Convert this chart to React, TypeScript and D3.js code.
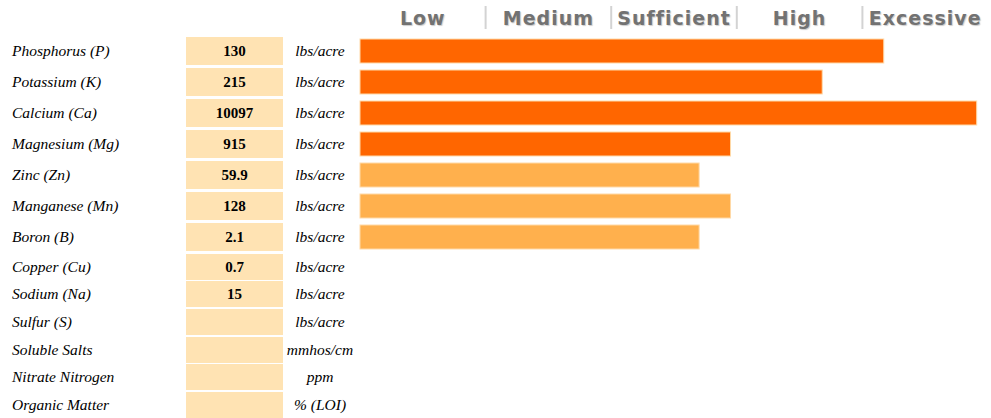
import React from 'react';
import * as d3 from 'd3';

// nutrient rows, top to bottom
const nutrients = [
  'Phosphorus (P)', 'Potassium (K)', 'Calcium (Ca)', 'Magnesium (Mg)',
  'Zinc (Zn)', 'Manganese (Mn)', 'Boron (B)', 'Copper (Cu)', 'Sodium (Na)',
  'Sulfur (S)', 'Soluble Salts', 'Nitrate Nitrogen', 'Organic Matter',
];
const results = ['130', '215', '10097', '915', '59.9', '128', '2.1', '0.7', '15', '', '', '', ''];
const units = [
  'lbs/acre', 'lbs/acre', 'lbs/acre', 'lbs/acre', 'lbs/acre', 'lbs/acre', 'lbs/acre',
  'lbs/acre', 'lbs/acre', 'lbs/acre', 'mmhos/cm', 'ppm', '% (LOI)',
];
// rating on a 0-5 scale (one unit per level), null = no bar
const ratings = [4.17, 3.68, 4.91, 2.95, 2.7, 2.95, 2.7, null, null, null, null, null, null];
const groups = ['macro', 'macro', 'macro', 'macro', 'micro', 'micro', 'micro', 'micro', 'micro', 'micro', 'other', 'other', 'other'];
const levels = ['Low', 'Medium', 'Sufficient', 'High', 'Excessive'];

const W = 991;
const H = 418;

const App = () => {
  const x = d3.scaleLinear().domain([0, levels.length]).range([360, 988]);
  const band = d3.scaleBand().domain(levels).range([360, 988]);
  const color = d3.scaleOrdinal<string, string>()
    .domain(['macro', 'micro', 'other'])
    .range(['#ff6600', '#ffb04d', '#ffb04d']);

  // first seven rows are taller than the rest
  const tops: number[] = [];
  let y = 37;
  nutrients.forEach((_, i) => {
    tops.push(Math.round(y));
    y += i < 6 ? 31 : i === 6 ? 30.5 : 27.7;
  });
  const rowH = (i: number) => (i < 7 ? 28 : 26);

  return (
    <svg width={W} height={H} style={{ position: 'absolute', left: 0, top: 0 }}>
      <rect width={W} height={H} fill="#fff" />
      {/* level header */}
      <g fontFamily="'DejaVu Sans', Verdana, sans-serif" fontWeight="bold" fontSize={19}>
        {levels.map((l) => (
          <text key={l} x={band(l)! + band.bandwidth() / 2} y={25} textAnchor="middle"
            fill="#727272" letterSpacing={1} style={{ textShadow: '1px 1px 1px #ccc' }}>{l}</text>
        ))}
        {d3.range(1, levels.length).map((t) => (
          <line key={t} x1={x(t)} x2={x(t)} y1={6} y2={29} stroke="#d3d3d3" strokeWidth={2} />
        ))}
      </g>
      {nutrients.map((n, i) => {
        const t = tops[i];
        const h = rowH(i);
        const cy = t + h / 2;
        const r = ratings[i];
        return (
          <g key={n}>
            <text x={12} y={cy} dy="0.35em" fontFamily="'Liberation Serif', serif"
              fontStyle="italic" fontSize={15.5} fill="#000">{n}</text>
            <rect x={186} y={t} width={97} height={h} fill="#ffe3b3" />
            <text x={234.5} y={cy} dy="0.35em" textAnchor="middle" fontFamily="'Liberation Serif', serif"
              fontWeight="bold" fontSize={15} fill="#000">{results[i]}</text>
            <text x={320} y={cy} dy="0.35em" textAnchor="middle" fontFamily="'Liberation Serif', serif"
              fontStyle="italic" fontSize={15.5} fill="#000">{units[i]}</text>
            {r != null && (
              <rect x={x(0)} y={t + 2} width={x(r) - x(0)} height={24}
                fill={color(groups[i])} stroke="#ffd9a8" strokeWidth={1} />
            )}
          </g>
        );
      })}
    </svg>
  );
};

export default App;
